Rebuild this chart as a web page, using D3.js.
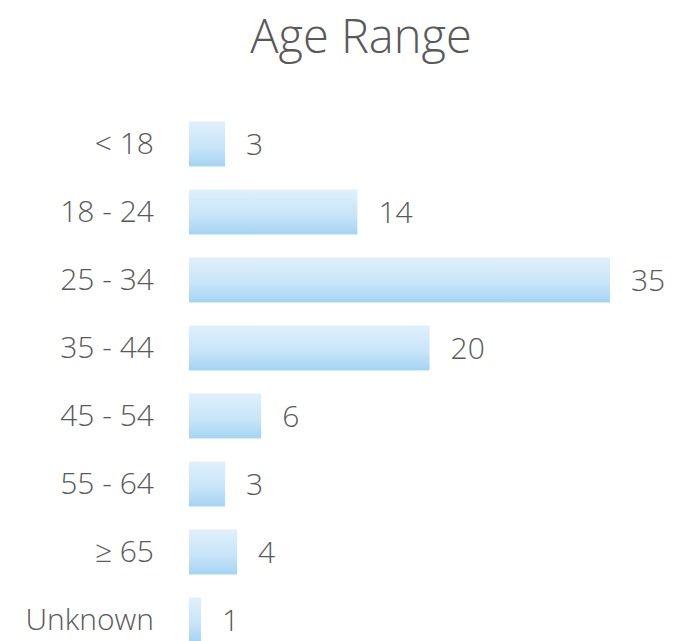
<!DOCTYPE html>
<meta charset="utf-8">
<script src="https://d3js.org/d3.v7.min.js"></script>
<style>
  body { margin: 0; background: #fff; font-family: 'Open Sans', sans-serif; }
</style>
<body>
<svg width="674" height="641"></svg>
<script>
var categories = ["< 18", "18 - 24", "25 - 34", "35 - 44", "45 - 54", "55 - 64", "\u2265 65", "Unknown"];
var counts = [3, 14, 35, 20, 6, 3, 4, 1];

var svg = d3.select("svg"),
    margin = {top: 110, left: 189, right: 64, bottom: 0};

var x = d3.scaleLinear().domain([0, 35]).range([margin.left, 610]);
var y = d3.scaleBand().domain(categories).range([110, 654]).paddingInner(0.34).paddingOuter(0.17);

var grad = svg.append("defs").append("linearGradient")
    .attr("id", "barGrad").attr("x1", 0).attr("y1", 0).attr("x2", 0).attr("y2", 1);
grad.append("stop").attr("offset", "0%").attr("stop-color", "#dff0fb");
grad.append("stop").attr("offset", "60%").attr("stop-color", "#c6e4f8");
grad.append("stop").attr("offset", "100%").attr("stop-color", "#a4d3f5");

svg.append("text")
    .attr("x", 361).attr("y", 53)
    .attr("text-anchor", "middle")
    .attr("font-size", 47)
    .attr("font-weight", 300)
    .attr("fill", "#595959")
    .text("Age Range");

var rows = svg.selectAll(".row")
    .data(categories.map(function(c, i) { return {cat: c, v: counts[i]}; }))
    .enter().append("g").attr("class", "row");

rows.append("rect")
    .attr("x", x(0))
    .attr("y", function(d) { return y(d.cat); })
    .attr("width", function(d) { return x(d.v) - x(0); })
    .attr("height", y.bandwidth())
    .attr("fill", "url(#barGrad)");

// category labels
svg.append("g")
    .attr("transform", "translate(" + (x(0) - 35) + ",0)")
    .call(d3.axisLeft(y).tickSize(0).tickPadding(0))
    .call(function(g) { g.select(".domain").remove(); })
    .selectAll("text")
    .attr("font-family", "'Open Sans', sans-serif")
    .attr("font-size", 30)
    .attr("font-weight", 300)
    .attr("fill", "#595959");

rows.append("text")
    .attr("x", function(d) { return x(d.v) + 21; })
    .attr("y", function(d) { return y(d.cat) + y.bandwidth() / 2; })
    .attr("dy", "0.35em")
    .attr("font-size", 30)
    .attr("font-weight", 300)
    .attr("fill", "#595959")
    .text(function(d) { return d.v; });
</script>
</body>
